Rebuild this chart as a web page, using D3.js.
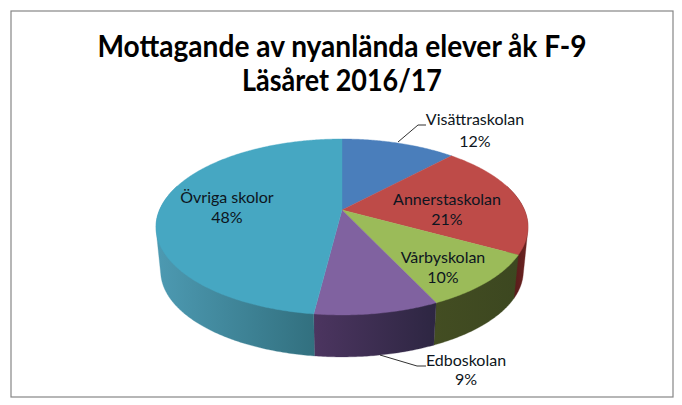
<!DOCTYPE html>
<html><head><meta charset="utf-8">
<script src="https://cdn.jsdelivr.net/npm/d3@7"></script>
<style>html,body{margin:0;padding:0;background:#fff}svg{display:block}text{font-family:Lato,sans-serif;fill:#0d1520}</style>
</head><body><svg id="c" width="682" height="405"></svg>
<script>
const categories = ["Visättraskolan","Annerstaskolan","Vårbyskolan","Edboskolan","Övriga skolor"];
const shares = [12,21,10,9,48];
const topColors = ["#4a7ebb","#be4b48","#9bbb59","#8062a0","#46a7c2"];
const wallLeft = ["#2c4a70","#471313","#434d22","#4c3560","#4d9ab2"];
const wallRight = ["#2c4a70","#6e2523","#3c4720","#2d2642","#32707f"];
const titleLines = ["Mottagande av nyanlända elever åk F-9","Läsåret 2016/17"];
const titleWidths = [489,200];

const svg = d3.select("#c");
const defs = svg.append("defs");
const cx=342, cy=210, a=182.5, b=84.7, k=0.193, depth=44.6, shrink=0.975;
const project=(t,low)=>{const u=Math.sin(t),v=-Math.cos(t),w=1-k*v,s=low?shrink:1;
  return [cx+s*a*u/w, cy+(low?depth:0)+s*b*v/w];};
const arcs=d3.pie().sort(null).value(d=>d)(shares);
const line=d3.line();
const samples=d=>{const n=Math.ceil((d.endAngle-d.startAngle)/0.01);
  return d3.range(n+1).map(j=>d.startAngle+(d.endAngle-d.startAngle)*j/n);};

svg.append("rect").attr("x",11).attr("y",11).attr("width",662).attr("height",386)
  .attr("fill","#fff").attr("stroke","#868686").attr("stroke-width",1.2);

// Side walls: the hull of a slice's upper and lower rim; the top face paints over its inner part.
arcs.forEach((d,i)=>{
  const ts=samples(d);
  const visible=ts.filter(t=>Math.cos(t)<0.3);
  if(visible.length<2) return;
  const xs=visible.flatMap(t=>[project(t)[0],project(t,true)[0]]);
  const g=defs.append("linearGradient").attr("id","w"+i).attr("gradientUnits","userSpaceOnUse")
    .attr("x1",d3.min(xs)).attr("x2",d3.max(xs)).attr("y1",0).attr("y2",0);
  g.append("stop").attr("offset",0).attr("stop-color",wallLeft[i]);
  g.append("stop").attr("offset",1).attr("stop-color",wallRight[i]);
  const hull=d3.polygonHull(visible.flatMap(t=>[project(t),project(t,true)]));
  svg.append("path").attr("d",line(hull)+"Z").attr("fill",`url(#w${i})`).attr("stroke",`url(#w${i})`).attr("stroke-width",0.3);
});
// Top face of each slice.
arcs.forEach((d,i)=>{
  const pts=samples(d).map(t=>project(t));
  svg.append("path").attr("d",line([[cx,cy],...pts])+"Z").attr("fill",topColors[i]).attr("stroke",topColors[i]).attr("stroke-width",0.4);
});

const leaders=[[[398,142],[418,125],[426,125]],[[380,355],[417,366],[426,366]]];
leaders.forEach(l=>svg.append("path").attr("d",line(l)).attr("fill","none").attr("stroke","#1a1a1a").attr("stroke-width",0.9));

const labelAt=[[475,125,147],[447,205,225],[443,263,283],[466,366,385],[227,203,223]];
arcs.forEach((d,i)=>{
  const [x,y1,y2]=labelAt[i];
  [categories[i],d.value+"%"].forEach((s,j)=>svg.append("text").attr("x",x).attr("y",j?y2:y1)
    .attr("text-anchor","middle").attr("font-size",16).text(s));
});
titleLines.forEach((s,i)=>svg.append("text").attr("x",342).attr("y",57+i*34)
  .attr("text-anchor","middle").attr("font-size",30).attr("font-weight",700)
  .attr("textLength",titleWidths[i]).attr("lengthAdjust","spacingAndGlyphs").style("fill","#000").text(s));
</script></body></html>
